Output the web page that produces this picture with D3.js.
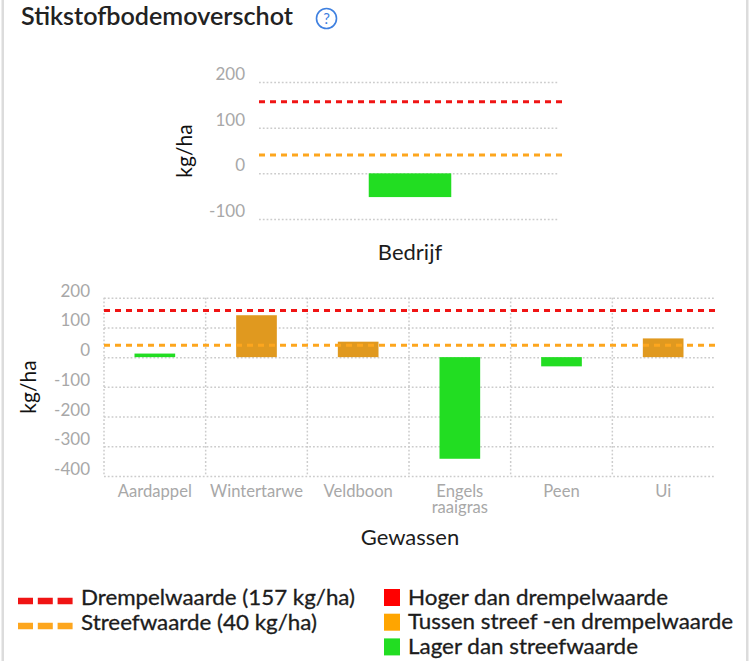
<!DOCTYPE html>
<html><head><meta charset="utf-8">
<script src="https://cdn.jsdelivr.net/npm/d3@7"></script>
<style>html,body{margin:0;padding:0;background:#fff}svg{display:block}text{font-family:Lato,sans-serif}</style>
</head><body><div id="c"></div>
<script>
const farmCategories = ["Bedrijf"];
const farmValues = [-52];
const farmTicks = [200, 100, 0, -100];
const cropCategories = ["Aardappel", "Wintertarwe", "Veldboon", "Engels raaigras", "Peen", "Ui"];
const cropValues = [12, 141, 52, -342, -31, 63];
const cropBarClass = ["low", "mid", "mid", "low", "low", "mid"];
const cropTicks = [200, 100, 0, -100, -200, -300, -400];
const threshold = 157, target = 40;
const classColors = {high: "#ff0000", mid: "#e0991f", low: "#22dd22"};
const lineLegend = ["Drempelwaarde (157 kg/ha)", "Streefwaarde (40 kg/ha)"];
const barLegend = ["Hoger dan drempelwaarde", "Tussen streef -en drempelwaarde", "Lager dan streefwaarde"];
const barLegendColors = ["#ff0000", "#ffa500", "#22dd22"];

const svg = d3.select("#c").append("svg").attr("width", 750).attr("height", 661);
const GRID = "#cccccc", TICK = "#a8a8a8", INK = "#1c1c1c";

// card edges
svg.append("rect").attr("x", 1.5).attr("y", 0).attr("width", 2.5).attr("height", 661).attr("fill", "#dcdcdc");
svg.append("rect").attr("x", 746).attr("y", 0).attr("width", 2.5).attr("height", 661).attr("fill", "#dcdcdc");

// title + help icon
svg.append("text").attr("x", 21).attr("y", 25).attr("font-size", 25).attr("font-weight", 600).attr("fill", "#222")
  .attr("textLength", 272).attr("lengthAdjust", "spacingAndGlyphs").text("Stikstofbodemoverschot");
svg.append("circle").attr("cx", 326.5).attr("cy", 18.5).attr("r", 10).attr("fill", "none").attr("stroke", "#3f80e0").attr("stroke-width", 1.6);
svg.append("text").attr("x", 326.5).attr("y", 24).attr("text-anchor", "middle").attr("font-size", 15).attr("fill", "#3f80e0").text("?");

function drawChart(o) {
  const y = d3.scaleLinear().domain(o.domain).range(o.yRange);
  const x = d3.scaleBand().domain(o.categories).range(o.xRange)
    .paddingInner(o.pi).paddingOuter(o.po);
  const g = svg.append("g");
  const gridEnd = o.gridEnd;

  const ya = g.append("g").attr("transform", `translate(${o.xRange[0]},0)`)
    .call(d3.axisLeft(y).tickValues(o.ticks).tickSize(-(gridEnd - o.xRange[0])).tickPadding(14).tickFormat(d => String(d)));
  ya.select(".domain").remove();
  ya.selectAll("line").attr("stroke", GRID).attr("stroke-width", 1.5).attr("stroke-dasharray", "1.8 2");
  ya.selectAll("text").attr("fill", TICK).attr("font-size", 17).attr("dy", o.tickDy).attr("font-family", "Lato");

  if (o.verticals) {
    const step = x.step();
    const edges = d3.range(o.categories.length).map(i => o.xRange[0] + i * step);
    g.selectAll(".v").data(edges).join("line").attr("class", "v")
      .attr("x1", d => d).attr("x2", d => d).attr("y1", y(o.domain[1])).attr("y2", y(o.domain[0]))
      .attr("stroke", GRID).attr("stroke-width", 1.5).attr("stroke-dasharray", "1.8 2");
  }

  g.selectAll(".bar").data(o.values).join("rect").attr("class", "bar")
    .attr("x", (d, i) => x(o.categories[i])).attr("width", x.bandwidth())
    .attr("y", d => y(Math.max(0, d))).attr("height", d => Math.abs(y(d) - y(0)))
    .attr("fill", (d, i) => classColors[o.classes[i]]);

  [[threshold, "#f01414"], [target, "#fda61e"]].forEach(([v, c]) => {
    g.append("line").attr("x1", o.xRange[0]).attr("x2", o.lineEnd).attr("y1", y(v)).attr("y2", y(v))
      .attr("stroke", c).attr("stroke-width", 3).attr("stroke-dasharray", "6 5");
  });

  g.append("text").attr("transform", `translate(${o.yTitleX},${o.yTitleY}) rotate(-90)`).attr("text-anchor", "middle")
    .attr("font-size", 21).attr("fill", "#111").text("kg/ha");
  g.append("text").attr("x", o.xTitleX).attr("y", o.xTitleY).attr("text-anchor", "middle")
    .attr("font-size", 22).attr("fill", INK).text(o.xTitle);

  if (o.showCats) {
    o.categories.forEach(c => {
      const t = g.append("text").attr("text-anchor", "middle").attr("fill", TICK).attr("font-size", 16.6);
      c.split(" ").forEach((w, i) => t.append("tspan").attr("x", x(c) + x.bandwidth() / 2).attr("y", 497 + i * 16).text(w));
    });
  }
}

drawChart({categories: farmCategories, values: farmValues, classes: ["low"], ticks: farmTicks,
  domain: [-100, 200], yRange: [219, 82], xRange: [259, 561], gridEnd: 558, lineEnd: 562,
  pi: 0, po: 1.33, tickDy: "-2.5px", verticals: false, showCats: false,
  yTitleX: 192, yTitleY: 151, xTitleX: 410, xTitleY: 260, xTitle: "Bedrijf"});

drawChart({categories: cropCategories, values: cropValues, classes: cropBarClass, ticks: cropTicks,
  domain: [-400, 200], yRange: [476, 297.7], xRange: [104, 714], gridEnd: 714, lineEnd: 715,
  pi: 0.6, po: 0.3, tickDy: "-1.5px", verticals: true, showCats: true,
  yTitleX: 36, yTitleY: 387, xTitleX: 410, xTitleY: 545, xTitle: "Gewassen"});

// legends
const lineColors = ["#f01414", "#fda61e"];
lineLegend.forEach((t, i) => {
  const yy = 601 + i * 25;
  svg.append("line").attr("x1", 18).attr("x2", 73).attr("y1", yy).attr("y2", yy)
    .attr("stroke", lineColors[i]).attr("stroke-width", 6.5).attr("stroke-dasharray", "15 4.8");
  svg.append("text").attr("x", 81).attr("y", yy + 3.5).attr("font-size", 20.5).attr("fill", INK)
    .attr("stroke", INK).attr("stroke-width", 0.3)
    .attr("textLength", [274, 236][i]).attr("lengthAdjust", "spacingAndGlyphs").text(t);
});
barLegend.forEach((t, i) => {
  const yy = 589 + i * 24.7;
  svg.append("rect").attr("x", 384).attr("y", yy).attr("width", 16).attr("height", 17).attr("fill", barLegendColors[i]);
  svg.append("text").attr("x", 408).attr("y", yy + 15.5).attr("font-size", 20.5).attr("fill", INK)
    .attr("stroke", INK).attr("stroke-width", 0.3)
    .attr("textLength", [260, 325, 230][i]).attr("lengthAdjust", "spacingAndGlyphs").text(t);
});
</script></body></html>
